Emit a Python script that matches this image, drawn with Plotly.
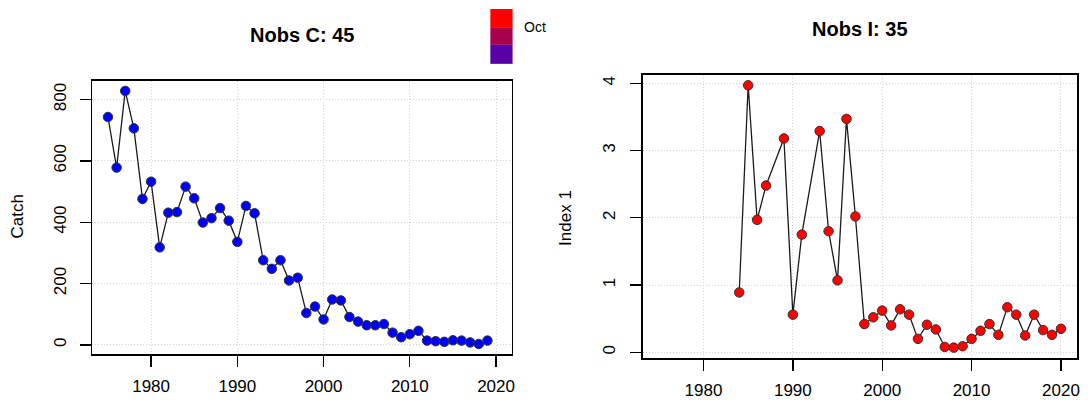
import plotly.graph_objects as go

# ---------------- data ----------------
catch_years = [1975, 1976, 1977, 1978, 1979, 1980, 1981, 1982, 1983, 1984,
               1985, 1986, 1987, 1988, 1989, 1990, 1991, 1992, 1993, 1994,
               1995, 1996, 1997, 1998, 1999, 2000, 2001, 2002, 2003, 2004,
               2005, 2006, 2007, 2008, 2009, 2010, 2011, 2012, 2013, 2014,
               2015, 2016, 2017, 2018, 2019]
catch_values = [743, 578, 828, 706, 476, 532, 318, 431, 433, 516,
                478, 399, 413, 446, 405, 336, 453, 429, 276, 248,
                276, 210, 219, 104, 125, 83, 148, 145, 91, 76,
                64, 64, 68, 40, 25, 35, 46, 14, 12, 10,
                15, 14, 8, 3, 14]

index_years = [1984, 1985, 1986, 1987, 1989, 1990, 1991, 1993, 1994, 1995,
               1996, 1997, 1998, 1999, 2000, 2001, 2002, 2003, 2004, 2005,
               2006, 2007, 2008, 2009, 2010, 2011, 2012, 2013, 2014, 2015,
               2016, 2017, 2018, 2019, 2020]
index_values = [0.89, 3.97, 1.97, 2.48, 3.18, 0.56, 1.75, 3.29, 1.80, 1.07,
                3.47, 2.02, 0.42, 0.52, 0.62, 0.40, 0.64, 0.56, 0.20, 0.41,
                0.34, 0.08, 0.07, 0.09, 0.20, 0.32, 0.42, 0.26, 0.67, 0.56,
                0.25, 0.56, 0.33, 0.26, 0.35]

x_ticks = [1980, 1990, 2000, 2010, 2020]
catch_ticks = [0, 200, 400, 600, 800]
index_ticks = [0, 1, 2, 3, 4]

title_c = "Nobs C: 45"
title_i = "Nobs I: 35"
ylabel_c = "Catch"
ylabel_i = "Index 1"
legend_label = "Oct"
legend_colors = ["#FF0000", "#A8004F", "#5800A8"]

# ---------------- figure ----------------
FONT = "Liberation Sans, Arial, Helvetica, sans-serif"
W, H = 1088, 400


def px(x):
    return x / W


def py(y):
    return 1 - y / H


fig = go.Figure()

fig.add_trace(go.Scatter(
    x=catch_years, y=catch_values, mode="lines+markers",
    line=dict(color="#1a1a1a", width=1.3),
    marker=dict(size=9.5, color="#0000FF", line=dict(color="#333333", width=1)),
    xaxis="x", yaxis="y", showlegend=False))

fig.add_trace(go.Scatter(
    x=index_years, y=index_values, mode="lines+markers",
    line=dict(color="#1a1a1a", width=1.3),
    marker=dict(size=9.5, color="#FF0000", line=dict(color="#333333", width=1)),
    xaxis="x2", yaxis="y2", showlegend=False))

common_axis = dict(
    showline=True, linecolor="black", linewidth=1.5, mirror=True,
    ticks="outside", ticklen=11, tickwidth=1.3, tickcolor="black",
    showgrid=True, gridcolor="#D3D3D3", griddash="1px,2px", gridwidth=1,
    zeroline=False, tickfont=dict(family=FONT, size=17, color="black"),
    fixedrange=True,
)

fig.update_layout(
    width=W, height=H, autosize=False,
    margin=dict(l=0, r=0, t=0, b=0),
    paper_bgcolor="white", plot_bgcolor="white",
    font=dict(family=FONT, color="black"),
    xaxis=dict(domain=[px(92.7), px(513)], range=[1973.2, 2021.8],
               tickmode="array", tickvals=x_ticks, anchor="y",
               ticklabelstandoff=5, **common_axis),
    yaxis=dict(domain=[py(355), py(81)], range=[-30, 861],
               tickmode="array", tickvals=catch_ticks, tickangle=-90,
               anchor="x", ticklabelstandoff=7, **common_axis),
    xaxis2=dict(domain=[px(644.5), px(1080)], range=[1973.2, 2021.8],
                tickmode="array", tickvals=x_ticks, anchor="y2",
                ticklabelstandoff=5, **common_axis),
    yaxis2=dict(domain=[py(359), py(75)], range=[-0.086, 4.126],
                tickmode="array", tickvals=index_ticks, tickangle=-90,
                anchor="x2", ticklabelstandoff=8, **common_axis),
)

annotations = [
    dict(text="<b>" + title_c + "</b>", x=px(302.8), y=py(35),
         xref="paper", yref="paper", xanchor="center", yanchor="middle",
         showarrow=False, font=dict(family=FONT, size=20, color="black")),
    dict(text="<b>" + title_i + "</b>", x=px(862), y=py(29),
         xref="paper", yref="paper", xanchor="center", yanchor="middle",
         showarrow=False, font=dict(family=FONT, size=20, color="black")),
    dict(text=ylabel_c, x=px(18), y=py(217), textangle=-90,
         xref="paper", yref="paper", xanchor="center", yanchor="middle",
         showarrow=False, font=dict(family=FONT, size=17, color="black")),
    dict(text=ylabel_i, x=px(567), y=py(218), textangle=-90,
         xref="paper", yref="paper", xanchor="center", yanchor="middle",
         showarrow=False, font=dict(family=FONT, size=17, color="black")),
    dict(text=legend_label, x=px(523), y=py(27),
         xref="paper", yref="paper", xanchor="left", yanchor="middle",
         showarrow=False, font=dict(family=FONT, size=14, color="black")),
]
fig.update_layout(annotations=annotations)

# colour key boxes (legend swatches)
bounds = [9, 28, 45, 64]
shapes = []
for i, col in enumerate(legend_colors):
    shapes.append(dict(type="rect", xref="paper", yref="paper",
                       x0=px(491.7), x1=px(514),
                       y0=py(bounds[i + 1]), y1=py(bounds[i]),
                       fillcolor=col, line=dict(width=0), layer="above"))
fig.update_layout(shapes=shapes)

post = (
    "document.documentElement.style.margin='0';"
    "document.documentElement.style.padding='0';"
    "document.documentElement.style.overflow='hidden';"
    "document.body.style.margin='0';"
    "document.body.style.padding='0';"
    "document.body.style.overflow='hidden';"
    "document.body.style.height='400px';"
    "var d=document.getElementById('{plot_id}');"
    "d.parentElement.style.height='400px';"
    "d.parentElement.style.overflow='hidden';"
)

fig.write_html("out.html", post_script=post,
               config={"displayModeBar": False, "staticPlot": True})
